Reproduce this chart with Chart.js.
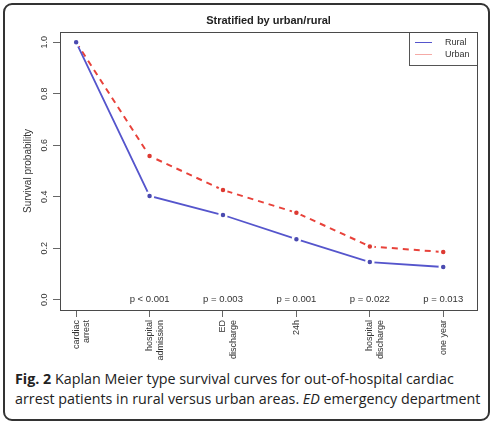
<!DOCTYPE html>
<html>
<head>
<meta charset="utf-8">
<script src="https://cdn.jsdelivr.net/npm/chart.js@4/dist/chart.umd.min.js"></script>
<style>
  html, body { margin: 0; padding: 0; background: #fff; }
  #frame { position: absolute; left: 3px; top: 3px; width: 483px; height: 414px;
           border: 2px solid #333; border-radius: 9px; }
  #wrap { position: absolute; left: 0; top: 0; width: 492px; height: 368px; }
  #plotBox { position: absolute; border: 1.5px solid #4a4a4a; pointer-events: none; box-sizing: border-box; }
  #caption { position: absolute; left: 15px; top: 369px; font-family: "Open Sans", sans-serif;
             font-size: 14.3px; line-height: 20px; color: #222; white-space: nowrap; }
</style>
</head>
<body>
<div id="frame"></div>
<div id="wrap"><canvas id="surv" width="492" height="368"></canvas><div id="plotBox"></div></div>
<div id="caption"><b>Fig. 2</b> Kaplan Meier type survival curves for out-of-hospital cardiac<br>arrest patients in rural versus urban areas. <i>ED</i> emergency department</div>
<script>
const STAGES = [["cardiac","arrest"],["hospital","admission"],["ED","discharge"],["24h"],["hospital","discharge"],["one year"]];
const RURAL = [1.0, 0.403, 0.329, 0.235, 0.146, 0.127];
const URBAN = [1.0, 0.558, 0.426, 0.338, 0.207, 0.185];
const PVALUES = ["", "p < 0.001", "p = 0.003", "p = 0.001", "p = 0.022", "p = 0.013"];
const Y_TICKS = [0, 0.2, 0.4, 0.6, 0.8, 1.0];

const FONT = '"Liberation Sans", Arial, sans-serif';

function toPoints(arr){ return arr.map((v,i)=>({ x: i+1, y: v })); }

// R-style extras: title, rotated y labels, p-values, legend
const decor = {
  id: 'decor',
  afterDraw(chart){
    const ctx = chart.ctx;
    const a = chart.chartArea;
    const xs = chart.scales.x, ys = chart.scales.y;
    ctx.save();

    ctx.fillStyle = '#222';
    ctx.font = 'bold 11px ' + FONT;
    ctx.textAlign = 'center'; ctx.textBaseline = 'middle';
    ctx.fillText('Stratified by urban/rural', (a.left + a.right)/2, 21);

    ctx.font = '9px ' + FONT;
    ctx.fillStyle = '#333';
    Y_TICKS.forEach(v=>{
      ctx.save();
      ctx.translate(45, ys.getPixelForValue(v));
      ctx.rotate(-Math.PI/2);
      ctx.fillText(v.toFixed(1), 0, 0);
      ctx.restore();
    });
    ctx.save();
    ctx.font = '10px ' + FONT;
    ctx.translate(28, (a.top + a.bottom)/2);
    ctx.rotate(-Math.PI/2);
    ctx.fillText('Survival probability', 0, 0);
    ctx.restore();

    ctx.font = '9.5px ' + FONT;
    PVALUES.forEach((p,i)=>{
      if(!p) return;
      ctx.fillText(p, xs.getPixelForValue(i+1), ys.getPixelForValue(0));
    });

    // legend box in the top-right corner
    const lw = 68, lh = 33;
    const lx = Math.round(a.right) - lw, ly = Math.round(a.top);
    ctx.lineWidth = 1;
    ctx.strokeStyle = '#555';
    ctx.strokeRect(lx + 0.5, ly + 0.5, lw, lh);
    ctx.textAlign = 'left';
    ctx.font = '9px ' + FONT;
    chart.data.datasets.forEach((ds,i)=>{
      const yy = ly + 10.5 + i*12;
      ctx.strokeStyle = ds.borderColor; ctx.globalAlpha = i ? 0.45 : 1;
      ctx.beginPath(); ctx.moveTo(lx + 6, yy); ctx.lineTo(lx + 23, yy); ctx.stroke();
      ctx.globalAlpha = 1;
      ctx.fillStyle = '#333';
      ctx.fillText(ds.label, lx + 36, yy);
    });
    ctx.restore();
  }
};

const chart = new Chart(document.getElementById('surv'), {
  type: 'line',
  data: {
    datasets: [
      { label: 'Rural', data: toPoints(RURAL), borderColor: '#5555cc', borderWidth: 1.8,
        pointBackgroundColor: '#4a4ab0', pointBorderColor: '#fff', pointBorderWidth: 2.5,
        pointRadius: 3.5, tension: 0 },
      { label: 'Urban', data: toPoints(URBAN), borderColor: '#e8423a', borderWidth: 2,
        borderDash: [6, 5], pointBackgroundColor: '#dd3a32', pointBorderColor: '#fff',
        pointBorderWidth: 2.5, pointRadius: 3.5, tension: 0 }
    ]
  },
  options: {
    responsive: false,
    animation: false,
    layout: { padding: { top: 32, right: 15, left: 0, bottom: 0 } },
    plugins: { legend: { display: false }, tooltip: { enabled: false } },
    scales: {
      x: {
        type: 'linear', min: 0.78, max: 6.46,
        afterFit(s){ s.height = 58; },
        border: { display: false },
        grid: { drawOnChartArea: false, tickLength: 7, color: '#666' },
        ticks: {
          stepSize: 1, includeBounds: false, autoSkip: false,
          minRotation: 90, maxRotation: 90, padding: 3,
          font: { family: FONT, size: 9 }, color: '#333',
          callback: v => Number.isInteger(v) && STAGES[v-1] ? STAGES[v-1] : ''
        }
      },
      y: {
        min: -0.04, max: 1.04,
        afterFit(s){ s.width = 60; },
        border: { display: false },
        grid: { drawOnChartArea: false, tickLength: 7, color: '#666' },
        afterBuildTicks(s){ s.ticks = Y_TICKS.map(v=>({ value: v })); },
        ticks: { display: false }
      }
    }
  },
  plugins: [decor]
});

// frame around the plot area, placed from the chart's own layout
const area = chart.chartArea;
const box = document.getElementById('plotBox');
box.style.left = Math.round(area.left) + 'px';
box.style.top = Math.round(area.top) + 'px';
box.style.width = Math.round(area.right - area.left + 1) + 'px';
box.style.height = Math.round(area.bottom - area.top + 1) + 'px';
</script>
</body>
</html>
